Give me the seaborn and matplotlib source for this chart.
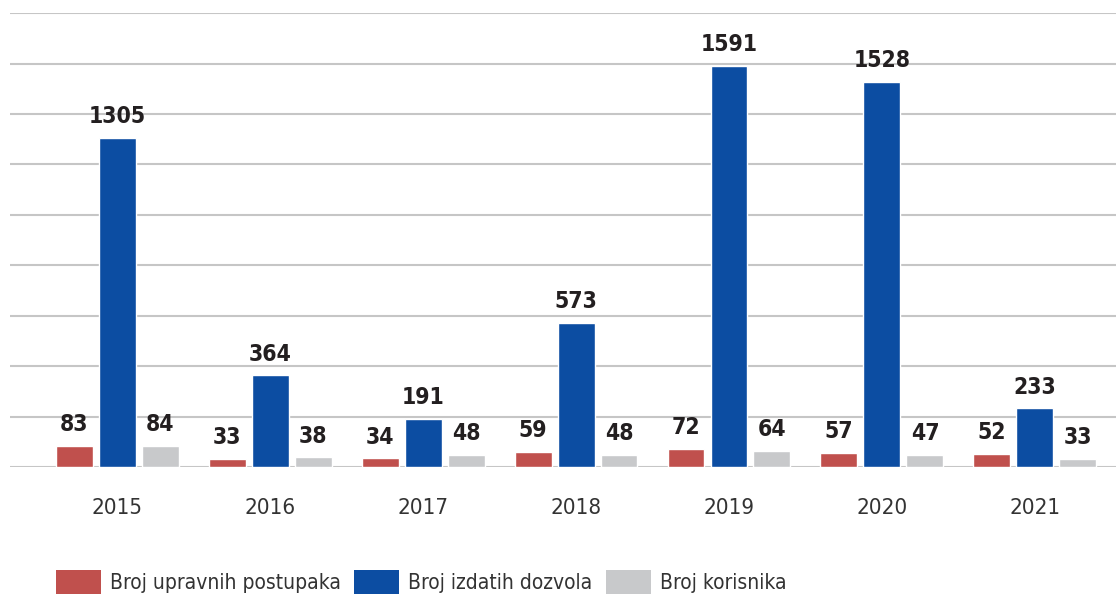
import pandas as pd
import numpy as np
import matplotlib
matplotlib.use("Agg")
import matplotlib.pyplot as plt
import seaborn as sns
from matplotlib.patches import Patch

# Data
years = ["2015", "2016", "2017", "2018", "2019", "2020", "2021"]
postupci = [83, 33, 34, 59, 72, 57, 52]
dozvole = [1305, 364, 191, 573, 1591, 1528, 233]
korisnici = [84, 38, 48, 48, 64, 47, 33]
series_names = ["Broj upravnih postupaka", "Broj izdatih dozvola", "Broj korisnika"]
colors = ["#c0504d", "#0c4da2", "#c8c9cb"]

df = pd.DataFrame({
    "Godina": years * 3,
    "Serija": [series_names[0]] * 7 + [series_names[1]] * 7 + [series_names[2]] * 7,
    "Vrijednost": postupci + dozvole + korisnici,
})

sns.set_theme(style="white")
plt.rcParams["font.family"] = ["DejaVu Sans"]
plt.rcParams["font.stretch"] = "condensed"

fig = plt.figure(figsize=(11.16, 5.95), dpi=100)
ax = fig.add_axes([0.009, 0.215, 0.991, 0.763])

sns.barplot(data=df, x="Godina", y="Vrijednost", hue="Serija",
            palette=colors, width=0.843, gap=0.14, saturation=1,
            legend=False, ax=ax)

# value labels above bars
for cont in ax.containers:
    ax.bar_label(cont, padding=7, fontsize=16.5, fontweight="bold", color="#231f20")

ax.set_ylim(0, 1800)
ax.set_xlim(-0.7, 6.53)
ax.set_yticks(np.arange(0, 1801, 200))
ax.yaxis.grid(True, color="#c6c6c6", linewidth=1.5)
ax.set_axisbelow(True)
ax.tick_params(axis="y", left=False, labelleft=False)
ax.tick_params(axis="x", bottom=False, labelsize=16, labelcolor="#333333", pad=16)
ax.set_xlabel("")
ax.set_ylabel("")
for s in ax.spines.values():
    s.set_visible(False)

handles = [Patch(facecolor=c, edgecolor="none") for c in colors]
fig.legend(handles, series_names, loc="lower left", bbox_to_anchor=(0.050, 0.002),
           ncol=3, frameon=False, fontsize=15, handlelength=2.16, handleheight=1.35,
           handletextpad=0.43, columnspacing=0.65, borderpad=0, borderaxespad=0,
           labelcolor="#333333")

fig.savefig("out.png", dpi=100)
